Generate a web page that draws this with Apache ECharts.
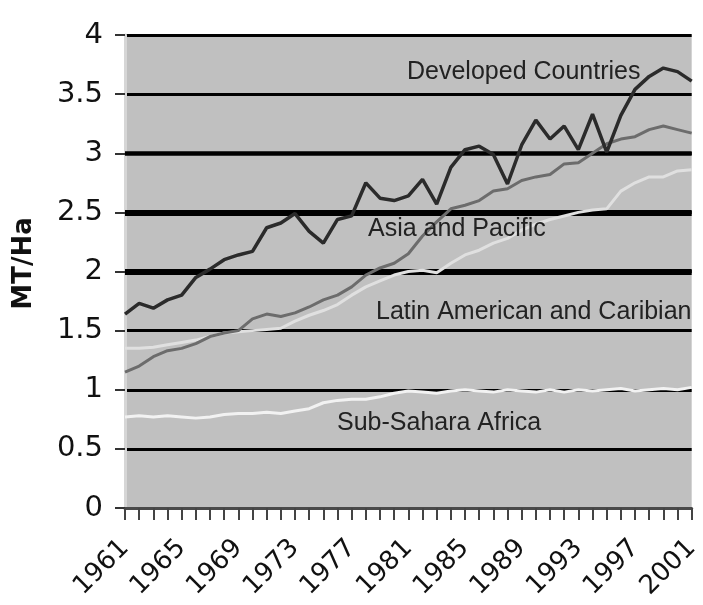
<!DOCTYPE html>
<html>
<head>
<meta charset="utf-8">
<style>
  html, body { margin: 0; padding: 0; background: #ffffff; }
  #chart { width: 703px; height: 605px; }
</style>
<script src="https://cdn.jsdelivr.net/npm/echarts@6/dist/echarts.min.js"></script>
</head>
<body>
<div id="chart"></div>
<script>
// ---- data ----
var years = ['1961','1962','1963','1964','1965','1966','1967','1968','1969','1970',
             '1971','1972','1973','1974','1975','1976','1977','1978','1979','1980',
             '1981','1982','1983','1984','1985','1986','1987','1988','1989','1990',
             '1991','1992','1993','1994','1995','1996','1997','1998','1999','2000','2001'];

var developed = [1.64,1.73,1.69,1.76,1.80,1.95,2.02,2.10,2.14,2.17,
                 2.37,2.41,2.49,2.34,2.24,2.44,2.47,2.75,2.62,2.60,
                 2.64,2.78,2.57,2.88,3.03,3.06,2.99,2.74,3.07,3.28,
                 3.12,3.23,3.03,3.33,3.01,3.32,3.54,3.65,3.72,3.69,3.61];

var asiaPacific = [1.15,1.20,1.28,1.33,1.35,1.39,1.45,1.48,1.50,1.60,
                   1.64,1.62,1.65,1.70,1.76,1.80,1.87,1.97,2.03,2.07,
                   2.15,2.30,2.42,2.53,2.56,2.60,2.68,2.70,2.77,2.80,
                   2.82,2.91,2.92,3.00,3.08,3.12,3.14,3.20,3.23,3.20,3.17];

var latinAmerica = [1.35,1.35,1.36,1.38,1.40,1.42,1.45,1.48,1.49,1.50,
                    1.51,1.52,1.58,1.63,1.67,1.72,1.80,1.87,1.92,1.97,
                    2.00,2.01,1.99,2.07,2.14,2.18,2.24,2.28,2.35,2.40,
                    2.44,2.47,2.50,2.52,2.53,2.68,2.75,2.80,2.80,2.85,2.86];

var subSahara = [0.77,0.78,0.77,0.78,0.77,0.76,0.77,0.79,0.80,0.80,
                 0.81,0.80,0.82,0.84,0.89,0.91,0.92,0.92,0.94,0.97,
                 0.99,0.98,0.97,0.99,1.00,0.99,0.98,1.00,0.99,0.98,
                 1.00,0.98,1.00,0.99,1.00,1.01,0.99,1.00,1.01,1.00,1.02];

var seriesNames = ['Developed Countries','Asia and Pacific','Latin American and Caribian','Sub-Sahara Africa'];
var thickGridValues = [2, 2.5];
var midGridValues = [3];

var chart = echarts.init(document.getElementById('chart'), null, { renderer: 'canvas' });

var annoFont = { fontFamily: 'Liberation Sans, Arial, sans-serif', fontSize: 25, fill: '#222' };

var option = {
  animation: false,
  backgroundColor: '#ffffff',
  grid: {
    left: 125, right: 5, top: 35, bottom: 97,
    show: true, backgroundColor: '#c0c0c0', borderWidth: 0
  },
  xAxis: {
    type: 'category',
    data: years,
    boundaryGap: false,
    axisLine: { show: true, lineStyle: { color: '#4a4a4a', width: 3 } },
    axisTick: { show: true, interval: 0, length: 12, lineStyle: { color: '#444', width: 2 } },
    axisLabel: {
      interval: 3, rotate: 45, margin: 36,
      fontFamily: 'DejaVu Sans', fontSize: 26, color: '#111'
    },
    splitLine: { show: false }
  },
  yAxis: {
    type: 'value',
    min: 0, max: 4, interval: 0.5,
    name: 'MT/Ha',
    nameLocation: 'middle',
    nameGap: 88,
    nameRotate: 90,
    nameTextStyle: { fontFamily: 'DejaVu Sans', fontWeight: 'bold', fontSize: 26, color: '#111', padding: [0, 0, 0, 16] },
    axisLine: { show: true, lineStyle: { color: '#d6d6d6', width: 3 } },
    axisTick: { show: true, length: 10, lineStyle: { color: '#333', width: 2 } },
    axisLabel: { margin: 22, fontFamily: 'DejaVu Sans', fontSize: 29, color: '#111' },
    splitLine: { show: true, lineStyle: { color: '#000', width: 3 } }
  },
  series: [
    {
      name: seriesNames[3], type: 'line', data: subSahara, symbol: 'none',
      lineStyle: { color: '#f2f2f2', width: 3 }, z: 2,
      markLine: {
        silent: true, symbol: 'none', z: 1, label: { show: false },
        data: thickGridValues.map(function (v) { return { yAxis: v, lineStyle: { color: '#000', width: 6, type: 'solid' } }; })
          .concat(midGridValues.map(function (v) { return { yAxis: v, lineStyle: { color: '#000', width: 4.5, type: 'solid' } }; }))
      }
    },
    {
      name: seriesNames[2], type: 'line', data: latinAmerica, symbol: 'none',
      lineStyle: { color: '#e0e0e0', width: 3 }, z: 3
    },
    {
      name: seriesNames[1], type: 'line', data: asiaPacific, symbol: 'none',
      lineStyle: { color: '#6c6c6c', width: 3 }, z: 4
    },
    {
      name: seriesNames[0], type: 'line', data: developed, symbol: 'none',
      lineStyle: { color: '#2b2b2b', width: 3.5 }, z: 5
    }
  ],
  graphic: [
    { type: 'text', left: 407, top: 60, z: 10, style: Object.assign({ text: seriesNames[0] }, annoFont) },
    { type: 'text', left: 368, top: 217, z: 10, style: Object.assign({ text: seriesNames[1] }, annoFont) },
    { type: 'text', left: 376, top: 300, z: 10, style: Object.assign({ text: seriesNames[2] }, annoFont) },
    { type: 'text', left: 337, top: 411, z: 10, style: Object.assign({ text: seriesNames[3] }, annoFont) }
  ]
};

chart.setOption(option);
</script>
</body>
</html>
